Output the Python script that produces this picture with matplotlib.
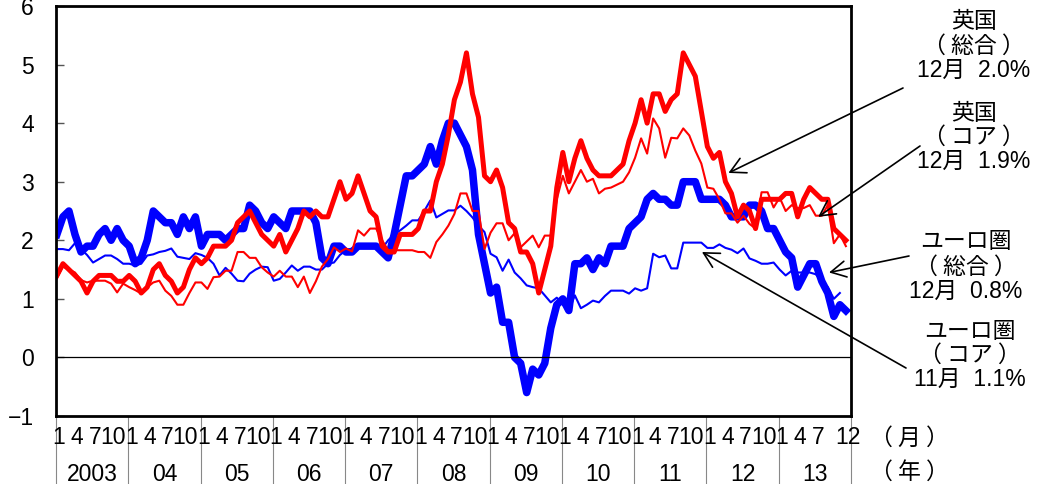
"""UK vs euro area CPI: headline and core, monthly 2003-2013."""
import matplotlib
matplotlib.use("Agg")
import matplotlib.pyplot as plt

plt.rcParams["font.family"] = ["Liberation Sans", "Noto Sans CJK JP"]
CJK = ["Noto Sans CJK JP", "DejaVu Sans"]

YEARS = ["2003", "04", "05", "06", "07", "08", "09", "10", "11", "12", "13"]

# UK CPI headline (%), Jan 2003 - Dec 2013
uk_total = [
    1.4, 1.6, 1.5, 1.4, 1.3, 1.1, 1.3, 1.4, 1.4, 1.4, 1.3, 1.3,
    1.4, 1.3, 1.1, 1.2, 1.5, 1.6, 1.4, 1.3, 1.1, 1.2, 1.5, 1.7,
    1.6, 1.7, 1.9, 1.9, 1.9, 2.0, 2.3, 2.4, 2.5, 2.3, 2.1, 2.0,
    1.9, 2.1, 1.8, 2.0, 2.2, 2.5, 2.4, 2.5, 2.4, 2.4, 2.7, 3.0,
    2.7, 2.8, 3.1, 2.8, 2.5, 2.4, 1.9, 1.8, 1.8, 2.1, 2.1, 2.1,
    2.2, 2.5, 2.5, 3.0, 3.3, 3.8, 4.4, 4.7, 5.2, 4.5, 4.1, 3.1,
    3.0, 3.2, 2.9, 2.3, 2.2, 1.8, 1.8, 1.6, 1.1, 1.5, 1.9, 2.9,
    3.5, 3.0, 3.4, 3.7, 3.4, 3.2, 3.1, 3.1, 3.1, 3.2, 3.3, 3.7,
    4.0, 4.4, 4.0, 4.5, 4.5, 4.2, 4.4, 4.5, 5.2, 5.0, 4.8, 4.2,
    3.6, 3.4, 3.5, 3.0, 2.8, 2.4, 2.6, 2.5, 2.2, 2.7, 2.7, 2.7,
    2.7, 2.8, 2.8, 2.4, 2.7, 2.9, 2.8, 2.7, 2.7, 2.2, 2.1, 2.0,
]

# UK core (%), Jan 2003 - Dec 2013
uk_core = [
    1.35, 1.55, 1.50, 1.45, 1.32, 1.28, 1.31, 1.31, 1.31, 1.26, 1.11, 1.26,
    1.20, 1.15, 1.09, 1.20, 1.28, 1.31, 1.14, 1.05, 0.90, 0.90, 1.10, 1.28,
    1.28, 1.17, 1.37, 1.38, 1.48, 1.48, 1.80, 1.80, 1.70, 1.70, 1.54, 1.45,
    1.38, 1.48, 1.38, 1.38, 1.20, 1.38, 1.10, 1.30, 1.55, 1.68, 1.88, 1.80,
    1.86, 1.81, 2.17, 2.08, 2.20, 2.20, 2.00, 1.83, 1.83, 1.83, 1.83, 1.83,
    1.80, 1.80, 1.70, 1.97, 2.10, 2.25, 2.45, 2.80, 2.80, 2.50, 2.50, 1.85,
    2.13, 2.29, 2.29, 2.00, 2.12, 1.88, 1.98, 2.08, 1.88, 2.08, 2.08, 2.70,
    3.10, 2.80, 3.00, 3.20, 3.00, 3.05, 2.80, 2.88, 2.90, 2.95, 3.00, 3.16,
    3.41, 3.74, 3.48, 4.08, 3.91, 3.41, 3.75, 3.74, 3.91, 3.79, 3.53, 3.31,
    2.90, 2.88, 2.70, 2.46, 2.46, 2.30, 2.42, 2.28, 2.20, 2.82, 2.82, 2.56,
    2.73, 2.50, 2.60, 2.55, 2.55, 2.60, 2.42, 2.42, 2.60, 1.95, 2.10, 1.90,
]

# Euro area HICP headline (%), Jan 2003 - Dec 2013
eu_total = [
    2.1, 2.4, 2.5, 2.1, 1.8, 1.9, 1.9, 2.1, 2.2, 2.0, 2.2, 2.0,
    1.9, 1.6, 1.7, 2.0, 2.5, 2.4, 2.3, 2.3, 2.1, 2.4, 2.2, 2.4,
    1.9, 2.1, 2.1, 2.1, 2.0, 2.1, 2.2, 2.2, 2.6, 2.5, 2.3, 2.2,
    2.4, 2.3, 2.2, 2.5, 2.5, 2.5, 2.5, 2.3, 1.7, 1.6, 1.9, 1.9,
    1.8, 1.8, 1.9, 1.9, 1.9, 1.9, 1.8, 1.7, 2.1, 2.6, 3.1, 3.1,
    3.2, 3.3, 3.6, 3.3, 3.7, 4.0, 4.0, 3.8, 3.6, 3.2, 2.1, 1.6,
    1.1, 1.2, 0.6, 0.6, 0.0, -0.1, -0.6, -0.2, -0.3, -0.1, 0.5, 0.9,
    1.0, 0.8, 1.6, 1.6, 1.7, 1.5, 1.7, 1.6, 1.9, 1.9, 1.9, 2.2,
    2.3, 2.4, 2.7, 2.8, 2.7, 2.7, 2.6, 2.6, 3.0, 3.0, 3.0, 2.7,
    2.7, 2.7, 2.7, 2.6, 2.4, 2.4, 2.4, 2.6, 2.6, 2.5, 2.2, 2.2,
    2.0, 1.8, 1.7, 1.2, 1.4, 1.6, 1.6, 1.3, 1.1, 0.7, 0.9, 0.8,
]

# Euro area core (%), Jan 2003 - Nov 2013
eu_core = [
    1.85, 1.85, 1.83, 1.95, 1.85, 1.75, 1.62, 1.68, 1.74, 1.74, 1.68, 1.60,
    1.60, 1.57, 1.60, 1.74, 1.76, 1.80, 1.82, 1.86, 1.72, 1.70, 1.68, 1.78,
    1.75, 1.70, 1.60, 1.40, 1.53, 1.43, 1.31, 1.30, 1.43, 1.50, 1.55, 1.54,
    1.31, 1.34, 1.45, 1.57, 1.48, 1.55, 1.55, 1.50, 1.50, 1.60, 1.62, 1.75,
    1.83, 1.86, 1.91, 1.90, 1.88, 1.88, 1.86, 2.00, 2.10, 2.17, 2.25, 2.34,
    2.34, 2.50, 2.68, 2.39, 2.45, 2.51, 2.51, 2.59, 2.50, 2.39, 2.25, 2.14,
    1.77, 1.71, 1.48, 1.67, 1.45, 1.35, 1.23, 1.20, 1.18, 1.06, 0.94, 1.02,
    0.90, 0.80, 1.06, 0.84, 0.90, 0.97, 0.94, 1.05, 1.14, 1.14, 1.14, 1.09,
    1.18, 1.14, 1.18, 1.77, 1.71, 1.74, 1.52, 1.52, 1.96, 1.96, 1.96, 1.96,
    1.87, 1.87, 1.93, 1.87, 1.84, 1.78, 1.86, 1.69, 1.65, 1.60, 1.60, 1.62,
    1.50, 1.40, 1.48, 1.45, 1.45, 1.45, 1.42, 1.30, 1.20, 1.00, 1.10,
]

LABELS = [
    ["英国", "（ 総合 ）", "12月  2.0%"],
    ["英国", "（ コア ）", "12月  1.9%"],
    ["ユーロ圏", "（ 総合 ）", "12月  0.8%"],
    ["ユーロ圏", "（ コア ）", "11月  1.1%"],
]

W, H = 1057, 484
FS = 16.5

fig = plt.figure(figsize=(W / 100, H / 100), dpi=100)
ax = fig.add_axes([56 / W, 1 - 416 / H, (851 - 56) / W, (416 - 6) / H])

x_all = list(range(len(uk_total)))
ax.plot(x_all, eu_total, color="#0000FF", lw=5.4, solid_joinstyle="round")
ax.plot(x_all[:len(eu_core)], eu_core, color="#0000FF", lw=1.5)
ax.plot(x_all, uk_total, color="#FF0000", lw=3.6, solid_joinstyle="round")
ax.plot(x_all, uk_core, color="#FF0000", lw=1.5)
ax.axhline(0, color="black", lw=0.9)

ax.set_xlim(-0.15, 131.85)
ax.set_ylim(-1, 6)
ax.set_yticks(range(-1, 7))
ax.tick_params(axis="y", direction="in", length=6, width=1, color="#555555",
               labelsize=FS, pad=16)
ax.set_xticks([])
for s in ax.spines.values():
    s.set_linewidth(2)

# month / year labels below the axis
xt = ax.get_xaxis_transform()
for yi, yr in enumerate(YEARS):
    months = [1, 4, 7, 10] if yi < len(YEARS) - 1 else [1, 4, 7, 12]
    for mo in months:
        ax.text(yi * 12 + mo - 1 + 0.35, -0.053, str(mo), transform=xt,
                ha="center", va="center", fontsize=FS)
    ax.text(yi * 12 + 5.85, -0.143, yr, transform=xt,
            ha="center", va="center", fontsize=FS)
for yi in range(len(YEARS) + 1):
    ax.plot([yi * 12 - 0.15] * 2, [0, -0.17], transform=xt, clip_on=False,
            color="#888888", lw=0.8)
fig.text(870 / W, 1 - 438 / H, "（ 月 ）", ha="left", va="center",
         fontsize=FS, family=CJK)
fig.text(870 / W, 1 - 472 / H, "（ 年 ）", ha="left", va="center",
         fontsize=FS, family=CJK)

# annotation blocks with arrows
blocks = [
    (974, [22, 46, 70], (903, 88), (111.5, 3.15)),
    (974, [113, 137, 161], (920, 146), (126.4, 2.4)),
    (966, [242, 267, 291], (909, 256), (128.2, 1.45)),
    (970, [331, 355, 379], (906, 368), (107.1, 1.8)),
]
for lines, (cx, ys, start, tip) in zip(LABELS, blocks):
    for txt, yy in zip(lines, ys):
        fam = CJK if txt.startswith("（") else None
        fig.text(cx / W, 1 - yy / H, txt, ha="center", va="center",
                 fontsize=FS, family=fam)
    ax.annotate("", xy=tip, xycoords="data",
                xytext=(start[0], H - start[1]), textcoords="figure pixels",
                arrowprops=dict(arrowstyle="->,head_length=0.6,head_width=0.32",
                                color="black", lw=1.2, shrinkA=0, shrinkB=0,
                                mutation_scale=18),
                annotation_clip=False)

fig.savefig("out.png", dpi=100)
